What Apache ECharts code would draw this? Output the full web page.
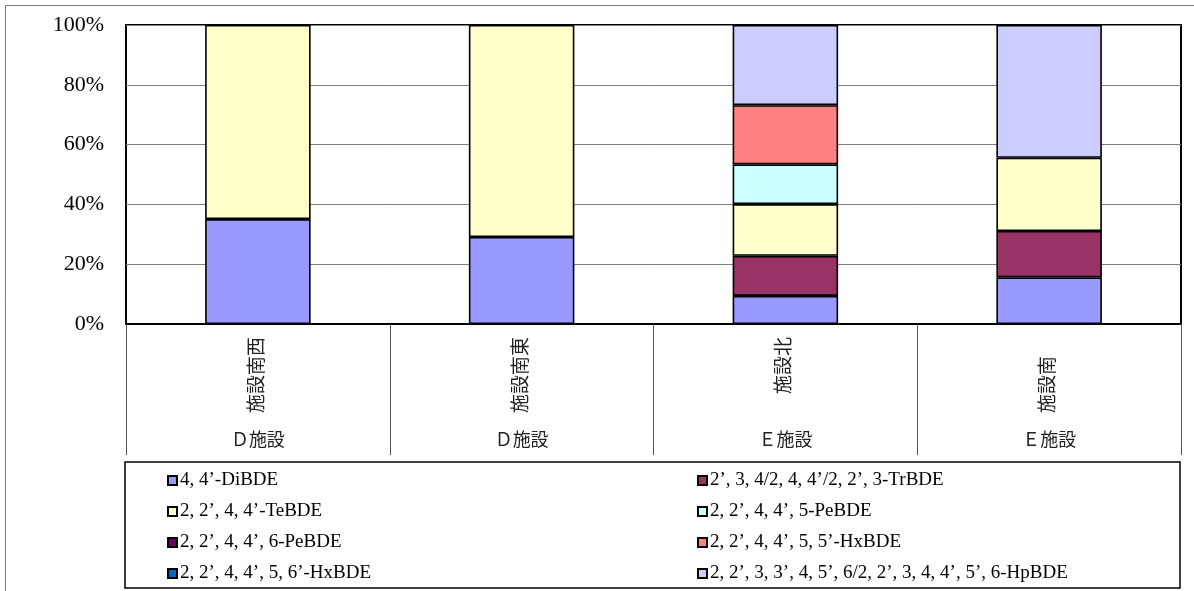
<!DOCTYPE html>
<html>
<head>
<meta charset="utf-8">
<script src="https://cdn.jsdelivr.net/npm/echarts@6/dist/echarts.min.js"></script>
<style>
  html, body { margin: 0; padding: 0; background: #fff; }
  #chart { width: 1194px; height: 591px; }
</style>
</head>
<body>
<div id="chart"></div>
<script>
/* PBDE congener composition by site — 100% stacked bars */
const sites = ['施設南西', '施設南東', '施設北', '施設南　'];
const facilities = ['Ｄ施設', 'Ｄ施設', 'Ｅ施設', 'Ｅ施設'];
const yTicks = [0, 20, 40, 60, 80, 100];

const congeners = [
  '4, 4’-DiBDE',
  '2’, 3, 4/2, 4, 4’/2, 2’, 3-TrBDE',
  '2, 2’, 4, 4’-TeBDE',
  '2, 2’, 4, 4’, 5-PeBDE',
  '2, 2’, 4, 4’, 6-PeBDE',
  '2, 2’, 4, 4’, 5, 5’-HxBDE',
  '2, 2’, 4, 4’, 5, 6’-HxBDE',
  '2, 2’, 3, 3’, 4, 5’, 6/2, 2’, 3, 4, 4’, 5’, 6-HpBDE',
];
const colors = ['#9999ff', '#993366', '#ffffcc', '#ccffff', '#660066', '#ff8080', '#0066cc', '#ccccff'];

// percent share per site
const diBDE   = [35.1, 29.1, 9.4, 15.6];
const trBDE   = [0, 0, 13.4, 15.5];
const teBDE   = [64.9, 70.9, 17.3, 24.5];
const peBDE5  = [0, 0, 13.3, 0];
const peBDE6  = [0, 0, 0, 0];
const hxBDE55 = [0, 0, 19.8, 0];
const hxBDE56 = [0, 0, 0, 0];
const hpBDE   = [0, 0, 26.8, 44.4];
const values = [diBDE, trBDE, teBDE, peBDE5, peBDE6, hxBDE55, hxBDE56, hpBDE];

const serif = '"Liberation Serif", "Noto Sans CJK JP", serif';
const chart = echarts.init(document.getElementById('chart'));

const series = congeners.map((name, i) => ({
  name,
  type: 'bar',
  stack: 'total',
  barWidth: '40%',
  data: values[i].map((v) => (v === 0 ? '-' : v)),
  itemStyle: { color: colors[i], borderColor: '#000', borderWidth: 1.6 },
  emphasis: { disabled: true },
}));

// legend laid out as a 2-column grid: one small legend per entry
const legendCols = [167, 697];
const legendRows = [480, 511, 542, 573];
const legends = congeners.map((name, i) => ({
  left: legendCols[i % 2],
  top: legendRows[Math.floor(i / 2)] - 9,
  padding: 0,
  itemWidth: 9,
  itemHeight: 9,
  icon: 'rect',
  selectedMode: false,
  textStyle: { fontFamily: serif, fontSize: 19, color: '#000', lineHeight: 18, padding: [0, 0, 0, -2] },
  data: [name],
}));

chart.setOption({
  animation: false,
  backgroundColor: '#fff',
  grid: {
    left: 126, right: 13, top: 25, bottom: 267,
    show: true, borderColor: '#000', borderWidth: 2, backgroundColor: 'transparent',
  },
  legend: legends,
  xAxis: [
    {
      type: 'category',
      data: sites,
      axisLine: { lineStyle: { color: '#000', width: 2 } },
      axisTick: { show: true, interval: 0, length: 131, lineStyle: { color: '#555', width: 1 } },
      axisLabel: {
        interval: 0, rotate: 90, margin: 13,
        fontFamily: serif, fontSize: 19, color: '#222',
      },
    },
    {
      type: 'category',
      data: facilities,
      position: 'bottom',
      axisLine: { show: false },
      axisTick: { show: false },
      axisLabel: { interval: 0, margin: 108, fontFamily: serif, fontSize: 18, color: '#222' },
    },
  ],
  yAxis: {
    type: 'value',
    min: yTicks[0],
    max: yTicks[yTicks.length - 1],
    interval: 20,
    axisLine: { show: false },
    axisTick: { show: false },
    axisLabel: { formatter: '{value}%', fontFamily: serif, fontSize: 22, color: '#000', margin: 22 },
    splitLine: { lineStyle: { color: '#808080', width: 1 } },
  },
  graphic: [
    {
      type: 'rect',
      shape: { x: 5.5, y: 5.5, width: 1200, height: 600 },
      style: { fill: 'none', stroke: '#777', lineWidth: 1 },
      silent: true,
    },
    {
      type: 'rect',
      shape: { x: 125, y: 462, width: 1055, height: 126 },
      style: { fill: 'none', stroke: '#000', lineWidth: 1.5 },
      silent: true,
    },
  ],
  series,
});
</script>
</body>
</html>
